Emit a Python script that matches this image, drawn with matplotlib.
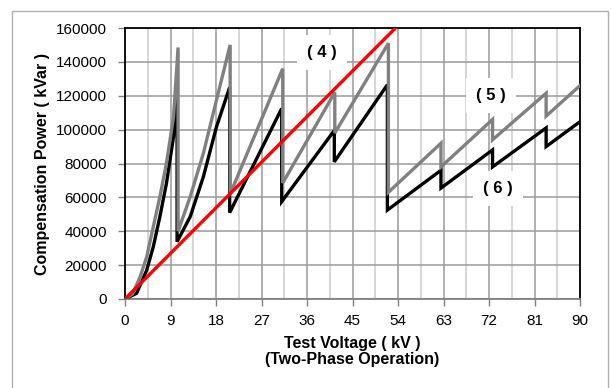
import matplotlib
matplotlib.use("Agg")
import matplotlib.pyplot as plt
from matplotlib.patches import Rectangle
from matplotlib.ticker import MultipleLocator

plt.rcParams['font.family'] = ['Liberation Sans', 'DejaVu Sans']

# Curve (4): linear characteristic
v4 = [0, 53.5]
q4 = [0, 160000]

# Curve (5): sawtooth, gray
v5 = [0, 1.5, 3.0, 4.3, 5.6, 6.9, 8.2, 9.6, 10.5, 10.5, 12.9, 15.5, 18.1, 20.8, 20.8,
      31.2, 31.2, 41.5, 41.5, 52.1, 52.1, 62.5, 62.5, 72.7, 72.7, 83.3, 83.3, 90]
q5 = [0, 3000, 13200, 25000, 42700, 60400, 80100, 107600, 148500, 40000, 60400, 86000,
      117500, 150000, 62000, 136000, 68500, 122000, 98000, 151000, 63000, 92000, 78000,
      106000, 94000, 121500, 108000, 126000]

# Curve (6): sawtooth, black
v6 = [0, 2.3, 4.3, 5.6, 6.9, 8.2, 9.6, 10.3, 10.3, 12.9, 15.5, 18.1, 20.7, 20.7,
      31.0, 31.0, 41.4, 41.4, 51.9, 51.9, 62.5, 62.5, 72.7, 72.7, 83.3, 83.3, 90]
q6 = [0, 3400, 17100, 30900, 48600, 68300, 95800, 124500, 33800, 48600, 72200, 101700,
      125000, 51000, 112500, 57500, 99500, 81000, 126500, 52500, 76000, 65500, 88000,
      78000, 101000, 90000, 104700]

x_ticks = [0, 9, 18, 27, 36, 45, 54, 63, 72, 81, 90]
y_ticks = [0, 20000, 40000, 60000, 80000, 100000, 120000, 140000, 160000]

fig = plt.figure(figsize=(6.11, 3.88), dpi=100)
ax = fig.add_axes([125 / 611, 1 - 299 / 388, 455 / 611, 271 / 388])

# light frame around the whole chart
fig.patches.append(Rectangle((12 / 611, -0.05), 596 / 611, 1.05 - 11 / 388,
                             transform=fig.transFigure, fill=False,
                             edgecolor='#b0b0b0', linewidth=1.0, zorder=0))

ax.set_xlim(0, 90)
ax.set_ylim(0, 160000)
ax.set_xticks(x_ticks)
ax.set_yticks(y_ticks)
ax.set_xticklabels([str(t) for t in x_ticks])
ax.set_yticklabels([str(t) for t in y_ticks])
ax.xaxis.set_minor_locator(MultipleLocator(4.5))

ax.grid(which='major', axis='both', color='#9a9a9a', linewidth=1.1, zorder=0)
ax.grid(which='minor', axis='x', color='#cccccc', linewidth=1.1, zorder=0)
ax.set_axisbelow(True)

ax.tick_params(axis='both', which='major', labelsize=11, length=5, width=1,
               color='#808080', direction='out')
ax.tick_params(axis='x', which='major', pad=6)
ax.tick_params(axis='y', which='major', pad=8)
ax.tick_params(axis='x', which='minor', length=0)

for side in ['left', 'top', 'right']:
    ax.spines[side].set_color('black')
    ax.spines[side].set_linewidth(1.3)
ax.spines['bottom'].set_color('#808080')
ax.spines['bottom'].set_linewidth(1.3)

ax.plot(v6, q6, color='black', linewidth=2.4, solid_joinstyle='miter', zorder=3)
ax.plot(v5, q5, color='#808080', linewidth=2.4, solid_joinstyle='miter', zorder=4)
ax.plot(v4, q4, color='#ff0000', linewidth=2.4, zorder=5, clip_on=True)

box = dict(boxstyle='square,pad=0.6', facecolor='white', edgecolor='none')
ax.text(39.0, 145800, '( 4 )', fontsize=12, fontweight='bold', ha='center',
        va='center', bbox=box, zorder=2)
ax.text(72.4, 119900, '( 5 )', fontsize=12, fontweight='bold', ha='center',
        va='center', bbox=box, zorder=2)
ax.text(73.8, 65500, '( 6 )', fontsize=12, fontweight='bold', ha='center',
        va='center', bbox=box, zorder=2)

ax.set_xlabel('Test Voltage ( kV )\n(Two-Phase Operation)', fontsize=11.5,
              fontweight='bold', linespacing=1.15)
ax.xaxis.set_label_coords(0.5, -0.135)
ax.set_ylabel('Compensation Power ( kVar )', fontsize=11.5, fontweight='bold')
ax.yaxis.set_label_coords(-0.165, 0.5)

fig.savefig('out.png', dpi=100)
